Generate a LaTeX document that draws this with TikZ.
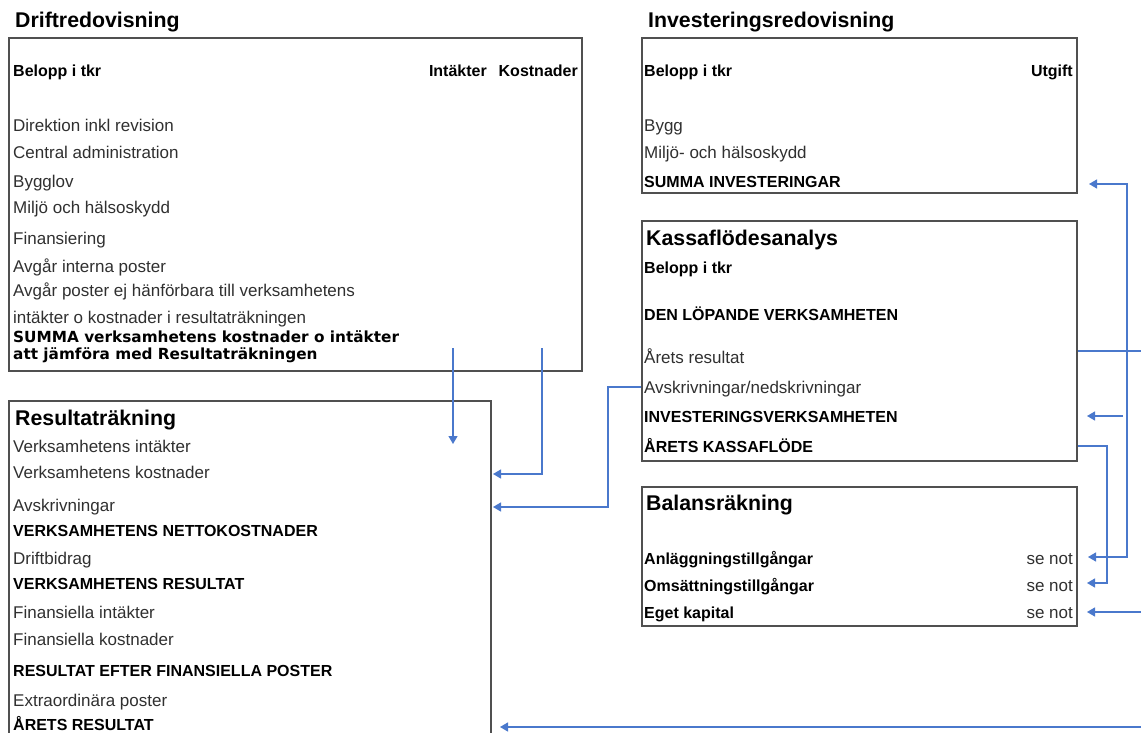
\documentclass[tikz,border=0pt]{standalone}
\usepackage{fontspec}
\setmainfont{Liberation Sans}
\newfontfamily\sumfont{DejaVu Sans}
\usetikzlibrary{arrows.meta}
\definecolor{boxgray}{HTML}{505050}
\definecolor{txtgray}{HTML}{303030}
\definecolor{linkblue}{HTML}{4A78CC}
\tikzset{
  box/.style={draw=boxgray, line width=1.6pt, inner sep=0pt, anchor=north west},
  txt/.style={anchor=base west, inner sep=0pt, text=txtgray, font=\fontsize{17}{20}\selectfont},
  rtxt/.style={txt, anchor=base east},
  btxt/.style={anchor=base west, inner sep=0pt, text=black, font=\fontsize{16}{19}\selectfont\bfseries},
  rbtxt/.style={btxt, anchor=base east},
  ttl/.style={anchor=base west, inner sep=0pt, text=black, font=\fontsize{21.3}{25}\selectfont\bfseries},
  sumtxt/.style={anchor=base west, inner sep=0pt, text=black, font=\sumfont\fontsize{15.3}{18}\selectfont\bfseries},
  conn/.style={draw=linkblue, line width=1.3pt},
  arr/.style={conn, -{Triangle[length=8pt,width=9pt]}},
  darr/.style={conn, {Triangle[length=8pt,width=9pt]}-{Triangle[length=8pt,width=9pt]}},
}
\begin{document}
\begin{tikzpicture}[x=1pt,y=-1pt]
\useasboundingbox (0,0) rectangle (1141,733);
\clip (0,0) rectangle (1141,733);
\fill[white] (0,0) rectangle (1141,733);

% ---------- boxes ----------
\node[box, minimum width=573pt, minimum height=333pt] (drift) at (8,37) {};
\node[box, minimum width=482pt, minimum height=400pt] (res) at (8,400) {};
\node[box, minimum width=435pt, minimum height=155pt] (inv) at (641,37) {};
\node[box, minimum width=435pt, minimum height=240pt] (kassa) at (641,220) {};
\node[box, minimum width=435pt, minimum height=139pt] (bal) at (641,486) {};

% ---------- Driftredovisning ----------
\node[ttl] (dtitle) at (15,28) {Driftredovisning};
\node[btxt] (dbel) at (13,77) {Belopp i tkr};
\node[rbtxt] (dint) at (487,77) {Intäkter};
\node[rbtxt] (dkos) at (578,77) {Kostnader};
\node[txt] (d1) at (13,132) {Direktion inkl revision};
\node[txt] (d2) at (13,159) {Central administration};
\node[txt] (d3) at (13,187) {Bygglov};
\node[txt] (d4) at (13,214) {Miljö och hälsoskydd};
\node[txt] (d5) at (13,244) {Finansiering};
\node[txt] (d6) at (13,272) {Avgår interna poster};
\node[txt] (d7) at (13,296) {Avgår poster ej hänförbara till verksamhetens};
\node[txt] (d8) at (13,323) {intäkter o kostnader i resultaträkningen};
\node[sumtxt] (d9) at (13,342) {SUMMA verksamhetens kostnader o intäkter};
\node[sumtxt] (d10) at (13,359) {att jämföra med Resultaträkningen};

% ---------- Resultaträkning ----------
\node[ttl] (rtitle) at (15,425) {Resultaträkning};
\node[txt] (rvi) at (13,452) {Verksamhetens intäkter};
\node[txt] (rvk) at (13,478) {Verksamhetens kostnader};
\node[txt] (rav) at (13,511) {Avskrivningar};
\node[btxt] (rvn) at (13,536) {VERKSAMHETENS NETTOKOSTNADER};
\node[txt] (rdb) at (13,564) {Driftbidrag};
\node[btxt] (rvr) at (13,589) {VERKSAMHETENS RESULTAT};
\node[txt] (rfi) at (13,618) {Finansiella intäkter};
\node[txt] (rfk) at (13,645) {Finansiella kostnader};
\node[btxt] (rre) at (13,676) {RESULTAT EFTER FINANSIELLA POSTER};
\node[txt] (rex) at (13,706) {Extraordinära poster};
\node[btxt] (rar) at (13,730) {ÅRETS RESULTAT};

% ---------- Investeringsredovisning ----------
\node[ttl] (ititle) at (648,28) {Investeringsredovisning};
\node[btxt] (ibel) at (644,77) {Belopp i tkr};
\node[rbtxt] (iutg) at (1073,77) {Utgift};
\node[txt] (i1) at (644,132) {Bygg};
\node[txt] (i2) at (644,159) {Miljö- och hälsoskydd};
\node[btxt] (isum) at (644,187) {SUMMA INVESTERINGAR};

% ---------- Kassaflödesanalys ----------
\node[ttl] (ktitle) at (646,245) {Kassaflödesanalys};
\node[btxt] (kbel) at (644,273) {Belopp i tkr};
\node[btxt] (kden) at (644,320) {DEN LÖPANDE VERKSAMHETEN};
\node[txt] (kres) at (644,363) {Årets resultat};
\node[txt] (kavs) at (644,393) {Avskrivningar/nedskrivningar};
\node[btxt] (kinv) at (644,422) {INVESTERINGSVERKSAMHETEN};
\node[btxt] (kakf) at (644,452) {ÅRETS KASSAFLÖDE};

% ---------- Balansräkning ----------
\node[ttl] (btitle) at (646,510) {Balansräkning};
\node[btxt] (banl) at (644,564) {Anläggningstillgångar};
\node[btxt] (boms) at (644,591) {Omsättningstillgångar};
\node[btxt] (beget) at (644,618) {Eget kapital};
\node[rtxt] (bn1) at (1073,564) {se not};
\node[rtxt] (bn2) at (1073,591) {se not};
\node[rtxt] (bn3) at (1073,618) {se not};

% ---------- connectors ----------
\coordinate (c1) at (453,348);
\coordinate (c1e) at (453,444);
\draw[arr] (c1) -- (c1e);

\coordinate (c2) at (542,348);
\coordinate (c2e) at (493,474);
\draw[arr] (c2) |- (c2e);

\coordinate (c3) at (608,387);
\coordinate (c3e) at (493,507);
\draw[arr] (kassa.west |- c3) -- (c3) |- (c3e);

\coordinate (v1) at (1127,300);
\coordinate (v1a) at (1089,184);
\coordinate (v1b) at (1088,557);
\draw[darr] (v1a) -| (v1) |- (v1b);

\coordinate (edgeR1) at (1141,351);
\draw[conn] (kassa.east |- edgeR1) -- (edgeR1);

\coordinate (s6) at (1123,416);
\coordinate (s6e) at (1087,416);
\draw[arr] (s6) -- (s6e);

\coordinate (v2) at (1107,500);
\coordinate (v2e) at (1087,583);
\coordinate (v2s) at (1076,446);
\draw[arr] (kassa.east |- v2s) -| (v2) |- (v2e);

\coordinate (edgeR2) at (1141,612);
\coordinate (edgeR2e) at (1087,612);
\draw[arr] (edgeR2) -- (edgeR2e);

\coordinate (edgeR3) at (1141,727);
\coordinate (edgeR3e) at (500,727);
\draw[arr] (edgeR3) -- (edgeR3e);
\end{tikzpicture}
\end{document}
